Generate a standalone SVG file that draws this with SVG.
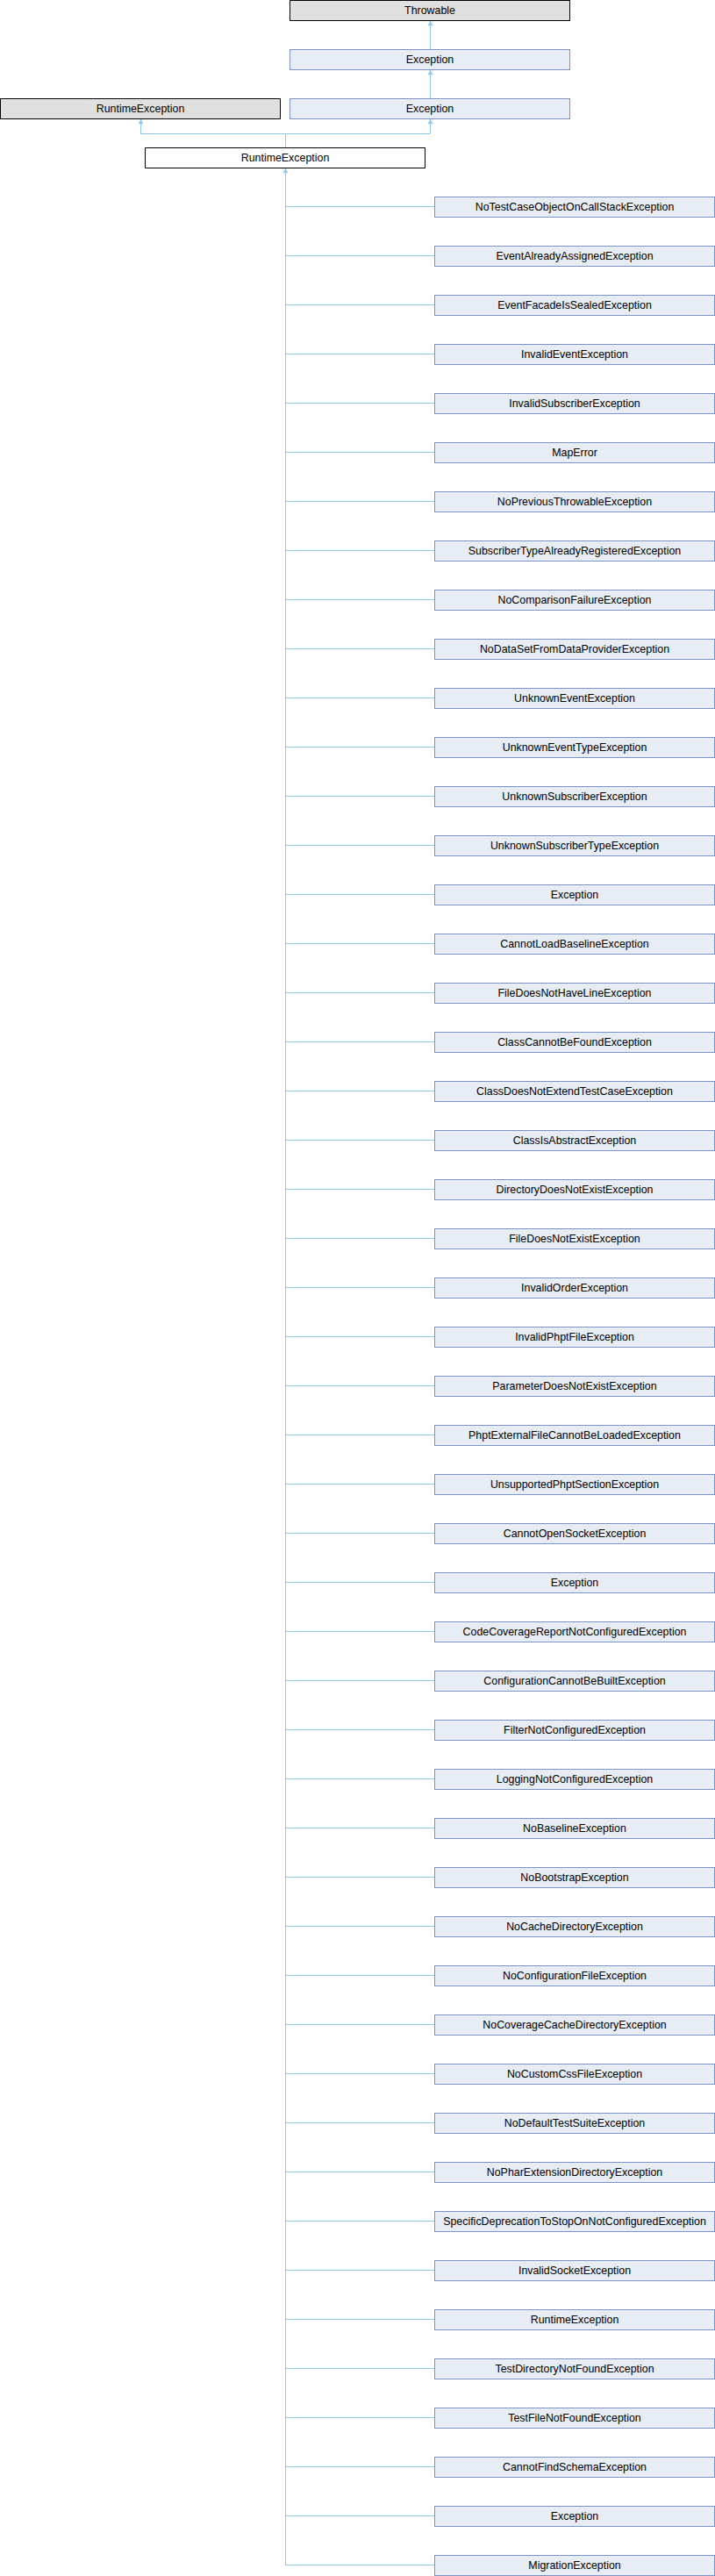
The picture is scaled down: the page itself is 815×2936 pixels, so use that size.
<svg xmlns="http://www.w3.org/2000/svg" width="815" height="2936" viewBox="0 0 815 2936">
<style>
.ext rect{fill:#e0e0e0;stroke:#000;stroke-width:1}
.cur rect{fill:#fff;stroke:#000;stroke-width:1}
.cls rect{fill:#e8ecf4;stroke:#7b93c7;stroke-width:1}
text{font-family:"Liberation Sans",Arial,sans-serif;font-size:12.4px;fill:#000;text-anchor:middle}
.edges line,.edges path{stroke:#90c8ea;stroke-width:1;fill:none}
.edges polygon{fill:#90c8ea;stroke:#90c8ea;stroke-width:0.5}
</style>
<rect width="815" height="2936" fill="#fff"/>
<g class="edges" id="connectors">
<line x1="490.5" y1="24" x2="490.5" y2="56"/>
<polygon points="490.5,24 488,29 493,29"/>
<line x1="490.5" y1="80" x2="490.5" y2="112"/>
<polygon points="490.5,80 488,85 493,85"/>
<path d="M325.5,168 V152.5 H160.5 V136 M325.5,152.5 H490.5 V136"/>
<polygon points="160.5,136 158,141 163,141"/>
<polygon points="490.5,136 488,141 493,141"/>
<line x1="325.5" y1="192" x2="325.5" y2="2924"/>
<polygon points="325.5,192 323,197 328,197"/>
<path d="M325.5,235.5H495M325.5,291.5H495M325.5,347.5H495M325.5,403.5H495M325.5,459.5H495M325.5,515.5H495M325.5,571.5H495M325.5,627.5H495M325.5,683.5H495M325.5,739.5H495M325.5,795.5H495M325.5,851.5H495M325.5,907.5H495M325.5,963.5H495M325.5,1019.5H495M325.5,1075.5H495M325.5,1131.5H495M325.5,1187.5H495M325.5,1243.5H495M325.5,1299.5H495M325.5,1355.5H495M325.5,1411.5H495M325.5,1467.5H495M325.5,1523.5H495M325.5,1579.5H495M325.5,1635.5H495M325.5,1691.5H495M325.5,1747.5H495M325.5,1803.5H495M325.5,1859.5H495M325.5,1915.5H495M325.5,1971.5H495M325.5,2027.5H495M325.5,2083.5H495M325.5,2139.5H495M325.5,2195.5H495M325.5,2251.5H495M325.5,2307.5H495M325.5,2363.5H495M325.5,2419.5H495M325.5,2475.5H495M325.5,2531.5H495M325.5,2587.5H495M325.5,2643.5H495M325.5,2699.5H495M325.5,2755.5H495M325.5,2811.5H495M325.5,2867.5H495M325.5,2923.5H495"/>
</g>
<g id="n_throwable" class="ext"><rect x="330.5" y="0.5" width="319" height="23"/><text x="490" y="16">Throwable</text></g>
<g id="n_exception_a" class="cls"><rect x="330.5" y="56.5" width="319" height="23"/><text x="490" y="72">Exception</text></g>
<g id="n_exception_b" class="cls"><rect x="330.5" y="112.5" width="319" height="23"/><text x="490" y="128">Exception</text></g>
<g id="n_runtime_ext" class="ext"><rect x="0.5" y="112.5" width="319" height="23"/><text x="160" y="128">RuntimeException</text></g>
<g id="n_runtime" class="cur"><rect x="165.5" y="168.5" width="319" height="23"/><text x="325" y="184">RuntimeException</text></g>
<g id="c01" class="cls"><rect x="495.5" y="224.5" width="319" height="23"/><text x="655" y="240">NoTestCaseObjectOnCallStackException</text></g>
<g id="c02" class="cls"><rect x="495.5" y="280.5" width="319" height="23"/><text x="655" y="296">EventAlreadyAssignedException</text></g>
<g id="c03" class="cls"><rect x="495.5" y="336.5" width="319" height="23"/><text x="655" y="352">EventFacadeIsSealedException</text></g>
<g id="c04" class="cls"><rect x="495.5" y="392.5" width="319" height="23"/><text x="655" y="408">InvalidEventException</text></g>
<g id="c05" class="cls"><rect x="495.5" y="448.5" width="319" height="23"/><text x="655" y="464">InvalidSubscriberException</text></g>
<g id="c06" class="cls"><rect x="495.5" y="504.5" width="319" height="23"/><text x="655" y="520">MapError</text></g>
<g id="c07" class="cls"><rect x="495.5" y="560.5" width="319" height="23"/><text x="655" y="576">NoPreviousThrowableException</text></g>
<g id="c08" class="cls"><rect x="495.5" y="616.5" width="319" height="23"/><text x="655" y="632">SubscriberTypeAlreadyRegisteredException</text></g>
<g id="c09" class="cls"><rect x="495.5" y="672.5" width="319" height="23"/><text x="655" y="688">NoComparisonFailureException</text></g>
<g id="c10" class="cls"><rect x="495.5" y="728.5" width="319" height="23"/><text x="655" y="744">NoDataSetFromDataProviderException</text></g>
<g id="c11" class="cls"><rect x="495.5" y="784.5" width="319" height="23"/><text x="655" y="800">UnknownEventException</text></g>
<g id="c12" class="cls"><rect x="495.5" y="840.5" width="319" height="23"/><text x="655" y="856">UnknownEventTypeException</text></g>
<g id="c13" class="cls"><rect x="495.5" y="896.5" width="319" height="23"/><text x="655" y="912">UnknownSubscriberException</text></g>
<g id="c14" class="cls"><rect x="495.5" y="952.5" width="319" height="23"/><text x="655" y="968">UnknownSubscriberTypeException</text></g>
<g id="c15" class="cls"><rect x="495.5" y="1008.5" width="319" height="23"/><text x="655" y="1024">Exception</text></g>
<g id="c16" class="cls"><rect x="495.5" y="1064.5" width="319" height="23"/><text x="655" y="1080">CannotLoadBaselineException</text></g>
<g id="c17" class="cls"><rect x="495.5" y="1120.5" width="319" height="23"/><text x="655" y="1136">FileDoesNotHaveLineException</text></g>
<g id="c18" class="cls"><rect x="495.5" y="1176.5" width="319" height="23"/><text x="655" y="1192">ClassCannotBeFoundException</text></g>
<g id="c19" class="cls"><rect x="495.5" y="1232.5" width="319" height="23"/><text x="655" y="1248">ClassDoesNotExtendTestCaseException</text></g>
<g id="c20" class="cls"><rect x="495.5" y="1288.5" width="319" height="23"/><text x="655" y="1304">ClassIsAbstractException</text></g>
<g id="c21" class="cls"><rect x="495.5" y="1344.5" width="319" height="23"/><text x="655" y="1360">DirectoryDoesNotExistException</text></g>
<g id="c22" class="cls"><rect x="495.5" y="1400.5" width="319" height="23"/><text x="655" y="1416">FileDoesNotExistException</text></g>
<g id="c23" class="cls"><rect x="495.5" y="1456.5" width="319" height="23"/><text x="655" y="1472">InvalidOrderException</text></g>
<g id="c24" class="cls"><rect x="495.5" y="1512.5" width="319" height="23"/><text x="655" y="1528">InvalidPhptFileException</text></g>
<g id="c25" class="cls"><rect x="495.5" y="1568.5" width="319" height="23"/><text x="655" y="1584">ParameterDoesNotExistException</text></g>
<g id="c26" class="cls"><rect x="495.5" y="1624.5" width="319" height="23"/><text x="655" y="1640">PhptExternalFileCannotBeLoadedException</text></g>
<g id="c27" class="cls"><rect x="495.5" y="1680.5" width="319" height="23"/><text x="655" y="1696">UnsupportedPhptSectionException</text></g>
<g id="c28" class="cls"><rect x="495.5" y="1736.5" width="319" height="23"/><text x="655" y="1752">CannotOpenSocketException</text></g>
<g id="c29" class="cls"><rect x="495.5" y="1792.5" width="319" height="23"/><text x="655" y="1808">Exception</text></g>
<g id="c30" class="cls"><rect x="495.5" y="1848.5" width="319" height="23"/><text x="655" y="1864">CodeCoverageReportNotConfiguredException</text></g>
<g id="c31" class="cls"><rect x="495.5" y="1904.5" width="319" height="23"/><text x="655" y="1920">ConfigurationCannotBeBuiltException</text></g>
<g id="c32" class="cls"><rect x="495.5" y="1960.5" width="319" height="23"/><text x="655" y="1976">FilterNotConfiguredException</text></g>
<g id="c33" class="cls"><rect x="495.5" y="2016.5" width="319" height="23"/><text x="655" y="2032">LoggingNotConfiguredException</text></g>
<g id="c34" class="cls"><rect x="495.5" y="2072.5" width="319" height="23"/><text x="655" y="2088">NoBaselineException</text></g>
<g id="c35" class="cls"><rect x="495.5" y="2128.5" width="319" height="23"/><text x="655" y="2144">NoBootstrapException</text></g>
<g id="c36" class="cls"><rect x="495.5" y="2184.5" width="319" height="23"/><text x="655" y="2200">NoCacheDirectoryException</text></g>
<g id="c37" class="cls"><rect x="495.5" y="2240.5" width="319" height="23"/><text x="655" y="2256">NoConfigurationFileException</text></g>
<g id="c38" class="cls"><rect x="495.5" y="2296.5" width="319" height="23"/><text x="655" y="2312">NoCoverageCacheDirectoryException</text></g>
<g id="c39" class="cls"><rect x="495.5" y="2352.5" width="319" height="23"/><text x="655" y="2368">NoCustomCssFileException</text></g>
<g id="c40" class="cls"><rect x="495.5" y="2408.5" width="319" height="23"/><text x="655" y="2424">NoDefaultTestSuiteException</text></g>
<g id="c41" class="cls"><rect x="495.5" y="2464.5" width="319" height="23"/><text x="655" y="2480">NoPharExtensionDirectoryException</text></g>
<g id="c42" class="cls"><rect x="495.5" y="2520.5" width="319" height="23"/><text x="655" y="2536">SpecificDeprecationToStopOnNotConfiguredException</text></g>
<g id="c43" class="cls"><rect x="495.5" y="2576.5" width="319" height="23"/><text x="655" y="2592">InvalidSocketException</text></g>
<g id="c44" class="cls"><rect x="495.5" y="2632.5" width="319" height="23"/><text x="655" y="2648">RuntimeException</text></g>
<g id="c45" class="cls"><rect x="495.5" y="2688.5" width="319" height="23"/><text x="655" y="2704">TestDirectoryNotFoundException</text></g>
<g id="c46" class="cls"><rect x="495.5" y="2744.5" width="319" height="23"/><text x="655" y="2760">TestFileNotFoundException</text></g>
<g id="c47" class="cls"><rect x="495.5" y="2800.5" width="319" height="23"/><text x="655" y="2816">CannotFindSchemaException</text></g>
<g id="c48" class="cls"><rect x="495.5" y="2856.5" width="319" height="23"/><text x="655" y="2872">Exception</text></g>
<g id="c49" class="cls"><rect x="495.5" y="2912.5" width="319" height="23"/><text x="655" y="2928">MigrationException</text></g>
</svg>
